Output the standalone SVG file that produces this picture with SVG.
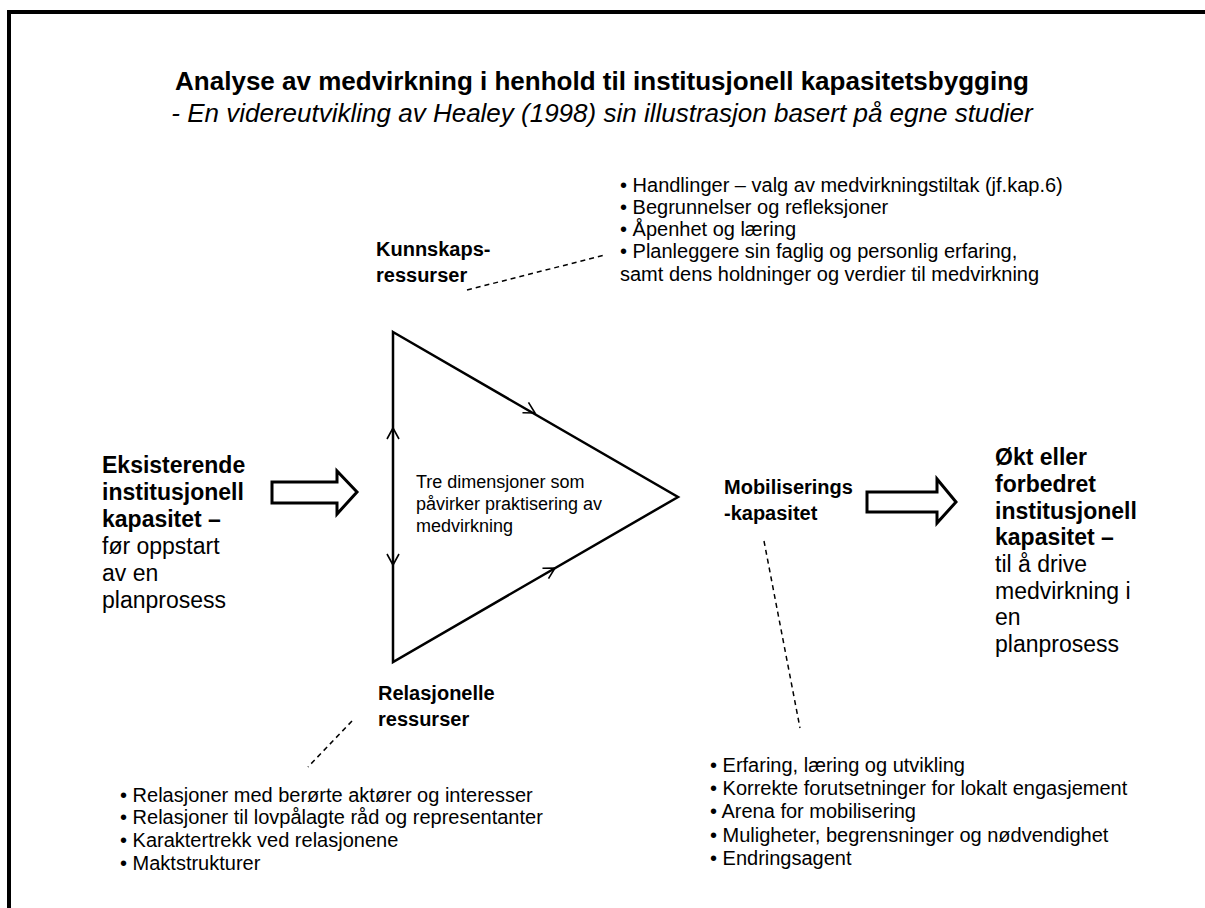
<svg xmlns="http://www.w3.org/2000/svg" width="1205" height="908" viewBox="0 0 1205 908">
<style>
text{font-family:"Liberation Sans",Arial,sans-serif;fill:#000}
.title{font-size:26px;font-weight:bold}
.sub{font-size:26px;font-style:italic}
.bul{font-size:20px}
.lab{font-size:20px;font-weight:bold}
.big{font-size:23px}
.b{font-weight:bold}
.inner{font-size:18px}
.dash{fill:none;stroke:#000;stroke-width:1.5;stroke-dasharray:5,4}
.tri{fill:none;stroke:#000;stroke-width:2.5;stroke-linejoin:miter}
.blk{fill:#fff;stroke:#000;stroke-width:3;stroke-linejoin:miter}
.chev{fill:none;stroke:#000;stroke-width:1.6}
</style>
<defs>
<path id="chev" class="chev" d="M-11,-6 L0,0 L-11,6"/>
</defs>
<rect x="0" y="0" width="1205" height="908" fill="#fff"/>
<rect x="9" y="12" width="1210" height="910" fill="none" stroke="#000" stroke-width="4"/>
<g id="title">
<text class="title" x="602" y="90" text-anchor="middle">Analyse av medvirkning i henhold til institusjonell kapasitetsbygging</text>
<text class="sub" x="602" y="122" text-anchor="middle">- En videreutvikling av Healey (1998) sin illustrasjon basert på egne studier</text>
</g>
<g id="kunnskap-bullets">
<text class="bul" x="620" y="192">• Handlinger – valg av medvirkningstiltak (jf.kap.6)</text>
<text class="bul" x="620" y="214">• Begrunnelser og refleksjoner</text>
<text class="bul" x="620" y="236">• Åpenhet og læring</text>
<text class="bul" x="620" y="258">• Planleggere sin faglig og personlig erfaring,</text>
<text class="bul" x="620" y="281">samt dens holdninger og verdier til medvirkning</text>
</g>
<g id="kunnskap">
<text class="lab" x="376" y="256">Kunnskaps-</text>
<text class="lab" x="376" y="282">ressurser</text>
</g>
<g id="triangle">
<path class="tri" d="M393,332 L678,497 L393,662 Z"/>
<use href="#chev" transform="translate(535,413) rotate(30.07)"/>
<use href="#chev" transform="translate(555,568) rotate(-30.07)"/>
<use href="#chev" transform="translate(393,428) rotate(-90)"/>
<use href="#chev" transform="translate(393,565) rotate(90)"/>
<text class="inner" x="416" y="488">Tre dimensjoner som</text>
<text class="inner" x="416" y="510">påvirker praktisering av</text>
<text class="inner" x="416" y="532">medvirkning</text>
</g>
<g id="eksisterende">
<text class="big" x="102" y="473"><tspan class="b">Eksisterende</tspan><tspan class="b" x="102" y="500">institusjonell</tspan><tspan class="b" x="102" y="527">kapasitet –</tspan><tspan x="102" y="554">før oppstart</tspan><tspan x="102" y="581">av en</tspan><tspan x="102" y="608">planprosess</tspan></text>
</g>
<g id="mobilisering">
<text class="lab" x="724" y="494">Mobiliserings</text>
<text class="lab" x="724" y="520">-kapasitet</text>
</g>
<g id="okt">
<text class="big" x="995" y="465"><tspan class="b">Økt eller</tspan><tspan class="b" x="995" y="492">forbedret</tspan><tspan class="b" x="995" y="519">institusjonell</tspan><tspan class="b" x="995" y="545">kapasitet –</tspan><tspan x="995" y="572">til å drive</tspan><tspan x="995" y="599">medvirkning i</tspan><tspan x="995" y="625">en</tspan><tspan x="995" y="652">planprosess</tspan></text>
</g>
<g id="relasjonelle">
<text class="lab" x="378" y="700">Relasjonelle</text>
<text class="lab" x="378" y="726">ressurser</text>
</g>
<g id="relasjon-bullets">
<text class="bul" x="120" y="802">• Relasjoner med berørte aktører og interesser</text>
<text class="bul" x="120" y="824">• Relasjoner til lovpålagte råd og representanter</text>
<text class="bul" x="120" y="847">• Karaktertrekk ved relasjonene</text>
<text class="bul" x="120" y="870">• Maktstrukturer</text>
</g>
<g id="mobilisering-bullets">
<text class="bul" x="710" y="772">• Erfaring, læring og utvikling</text>
<text class="bul" x="710" y="795">• Korrekte forutsetninger for lokalt engasjement</text>
<text class="bul" x="710" y="818">• Arena for mobilisering</text>
<text class="bul" x="710" y="842">• Muligheter, begrensninger og nødvendighet</text>
<text class="bul" x="710" y="865">• Endringsagent</text>
</g>
<g id="connectors">
<path class="blk" d="M272,482 H337 V471 L357,492 L337,514 V503 H272 Z"/>
<path class="blk" d="M867,492 H937 V479 L956,502 L937,523 V512 H867 Z"/>
<path class="dash" d="M467,290 L605,255"/>
<path class="dash" d="M764,541 L800,728"/>
<path class="dash" d="M352,721 L308,767"/>
</g>
</svg>
